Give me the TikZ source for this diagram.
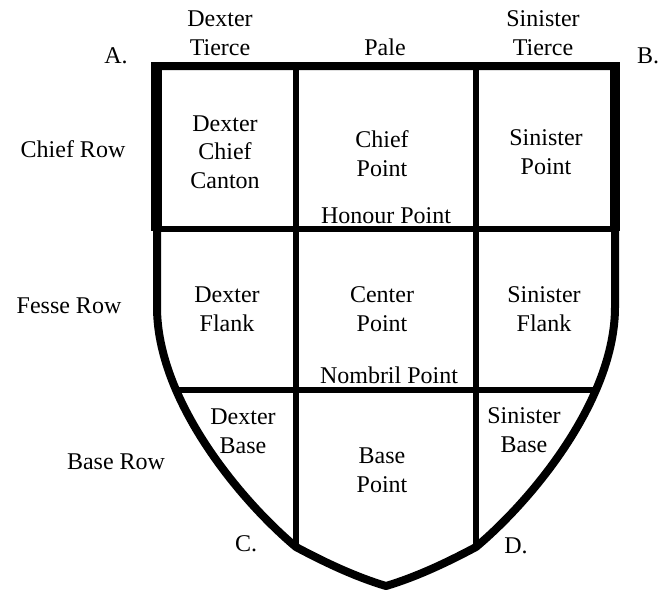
\documentclass[tikz,border=0pt]{standalone}
\usepackage{fontspec}
\setmainfont{Liberation Serif}
\begin{document}
\begin{tikzpicture}[x=1pt,y=-1pt,
  lbl/.style={font=\fontsize{24}{28.5}\selectfont, align=center, inner sep=0pt, anchor=base},
  outline/.style={line width=8pt, line join=miter},
  divider/.style={line width=6pt}]
\useasboundingbox (0,0) rectangle (660,589);
% key points
\coordinate (TL) at (157,66);
\coordinate (TR) at (615,66);
\coordinate (L) at (157,307);
\coordinate (R) at (615,307);
\coordinate (C) at (296,547);
\coordinate (D) at (476,547);
\coordinate (T) at (386,586);
% dividers
\draw[divider] (296,66) -- (C);
\draw[divider] (476,66) -- (D);
\draw[divider] (157,229) -- (615,229);
\draw[divider] (176.5,390) -- (595.5,390);
% outline
\draw[outline] (L) -- (TL) -- (TR) -- (R)
  .. controls (615,400) and (532,500) .. (D)
  .. controls (446,563) and (416,577) .. (T)
  .. controls (356,577) and (326,563) .. (C)
  .. controls (240,500) and (157,400) .. (L) -- cycle;
\draw[line width=11pt] (156,62) -- (156,231);
\draw[line width=10pt] (615,62) -- (615,231);
% top labels
\node[lbl] (dt) at (220,55) {Dexter\\Tierce};
\node[lbl] (pale) at (385,55) {Pale};
\node[lbl] (st) at (543,55) {Sinister\\Tierce};
\node[lbl] (A) at (116,63) {A.};
\node[lbl] (B) at (648,63) {B.};
% row labels
\node[lbl] (chiefrow) at (73,157) {Chief Row};
\node[lbl] (fesserow) at (69,313) {Fesse Row};
\node[lbl] (baserow) at (116,469) {Base Row};
\node[lbl] (Clbl) at (246,551) {C.};
\node[lbl] (Dlbl) at (516,553) {D.};
% cells
\node[lbl] (dcc) at (225,188) {Dexter\\Chief\\Canton};
\node[lbl] (cp) at (382,176) {Chief\\Point};
\node[lbl] (hp) at (386,223) {Honour Point};
\node[lbl] (sp) at (546,174) {Sinister\\Point};
\node[lbl] (df) at (227,331) {Dexter\\Flank};
\node[lbl] (cenp) at (382,331) {Center\\Point};
\node[lbl] (np) at (389,383) {Nombril Point};
\node[lbl] (sf) at (544,331) {Sinister\\Flank};
\node[lbl] (db) at (243,453) {Dexter\\Base};
\node[lbl] (bp) at (382,492) {Base\\Point};
\node[lbl] (sb) at (524,452) {Sinister\\Base};
\end{tikzpicture}
\end{document}
